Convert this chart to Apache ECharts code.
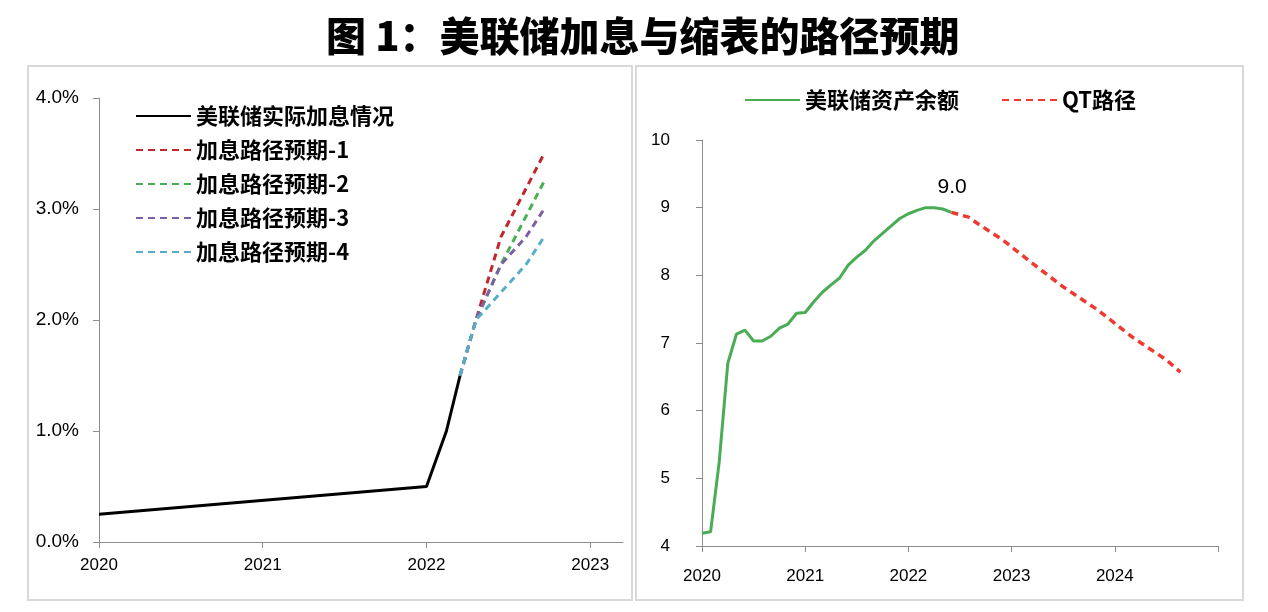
<!DOCTYPE html>
<html>
<head>
<meta charset="utf-8">
<script src="https://cdn.jsdelivr.net/npm/echarts@6/dist/echarts.min.js"></script>
<style>
html, body { margin: 0; padding: 0; background: #fff; }
#main { width: 1268px; height: 612px; }
</style>
</head>
<body>
<div id="main"></div>
<script>
// 左图：美联储实际加息 + 四条预期路径
var rateDates = ['2020-01-01', '2022-01-01', '2022-02-15', '2022-03-15'];
var rateActual = [0.25, 0.5, 1.0, 1.5];

var pathDates = ['2022-03-15', '2022-04-20', '2022-06-15', '2022-08-10', '2022-09-20'];
var path1 = [1.5, 2.0, 2.75, null, 3.5];
var path2 = [1.5, 2.0, 2.5, null, 3.25];
var path3 = [1.5, 2.0, 2.5, 2.75, 3.0];
var path4 = [1.5, 2.0, null, 2.5, 2.75];

// 右图：美联储资产余额（万亿美元）与QT路径
var balanceDates = ['2020-01', '2020-02', '2020-03', '2020-04', '2020-05', '2020-06',
	'2020-07', '2020-08', '2020-09', '2020-10', '2020-11', '2020-12',
	'2021-01', '2021-02', '2021-03', '2021-04', '2021-05', '2021-06',
	'2021-07', '2021-08', '2021-09', '2021-10', '2021-11', '2021-12',
	'2022-01', '2022-02', '2022-03', '2022-04', '2022-05', '2022-06'];
var balance = [4.19, 4.21, 5.24, 6.70, 7.13, 7.19, 7.03, 7.03, 7.10, 7.22, 7.28, 7.44,
	7.45, 7.61, 7.75, 7.86, 7.96, 8.15, 8.27, 8.37, 8.51, 8.62, 8.73, 8.84,
	8.91, 8.96, 9.00, 9.00, 8.98, 8.93];
var qtDates = ['2022-06', '2022-08', '2022-09', '2022-12', '2023-04', '2023-07', '2023-11', '2024-03', '2024-07', '2024-08-20'];
var qtPath = [8.93, 8.86, 8.77, 8.52, 8.12, 7.83, 7.49, 7.09, 6.75, 6.57];

var leftYears = [2020, 2023.2];
var leftTicks = [2020, 2021, 2022, 2023];
var rightYears = [2020, 2025];
var rightTicks = [2020, 2021, 2022, 2023, 2024, 2025];
var rightLabels = [2020, 2021, 2022, 2023, 2024];

function yr(s) {
	var p = s.split('-');
	var d = p[2] ? +p[2] : 1;
	return +p[0] + (+p[1] - 1) / 12 + (d - 1) / 365;
}
function pairs(dates, vals) {
	return dates.map(function (d, i) { return [yr(d), vals[i]]; });
}

var chart = echarts.init(document.getElementById('main'));

var cjk = '"Noto Sans CJK SC", sans-serif';
var num = '"Liberation Sans", Arial, sans-serif';
var axisGray = '#8c8c8c';

function xAxisOf(idx, range, ticks, labels, margin) {
	return {
		type: 'value', gridIndex: idx, min: range[0], max: range[1],
		axisLine: { show: true, lineStyle: { color: axisGray, width: 1 } },
		axisTick: { show: true, length: 6, customValues: ticks, lineStyle: { color: axisGray } },
		axisLabel: { color: '#000', fontSize: 17, fontFamily: num, margin: margin, customValues: labels,
			formatter: function (v) { return String(v); } },
		splitLine: { show: false }
	};
}

var dashW = 3;
var legendText = { fontSize: 22, fontWeight: 'bold', color: '#000', fontFamily: cjk };
var option = {
	backgroundColor: '#fff',
	animation: false,
	title: {
		text: '图 1：美联储加息与缩表的路径预期',
		left: 321, top: 11,
		textStyle: { fontSize: 40, fontWeight: 900, color: '#000', fontFamily: cjk }
	},
	graphic: [
		{ type: 'rect', shape: { x: 28, y: 66, width: 604, height: 534 },
			style: { fill: 'none', stroke: '#d9d9d9', lineWidth: 2 } },
		{ type: 'rect', shape: { x: 636, y: 66, width: 607, height: 534 },
			style: { fill: 'none', stroke: '#d9d9d9', lineWidth: 2 } }
	],
	legend: [
		{
			orient: 'vertical', left: 130, top: 100, itemWidth: 55, itemHeight: 14, itemGap: 12,
			itemStyle: { opacity: 0 },
			textStyle: legendText,
			data: ['美联储实际加息情况', '加息路径预期-1', '加息路径预期-2', '加息路径预期-3', '加息路径预期-4']
		},
		{
			orient: 'horizontal', left: 739, top: 84, itemWidth: 55, itemHeight: 14, itemGap: 42,
			itemStyle: { opacity: 0 },
			textStyle: legendText,
			data: ['美联储资产余额', 'QT路径']
		}
	],
	grid: [
		{ left: 99, right: 645, top: 98, bottom: 70 },
		{ left: 702, right: 50, top: 140, bottom: 66 }
	],
	xAxis: [
		xAxisOf(0, leftYears, leftTicks, leftTicks, 15),
		xAxisOf(1, rightYears, rightTicks, rightLabels, 22)
	],
	yAxis: [
		{
			type: 'value', gridIndex: 0, min: 0, max: 4, interval: 1,
			axisLine: { show: true, lineStyle: { color: axisGray } },
			axisTick: { show: true, length: 6, lineStyle: { color: axisGray } },
			axisLabel: { color: '#000', fontSize: 19, fontFamily: num, margin: 20,
				formatter: function (v) { return v.toFixed(1) + '%'; } },
			splitLine: { show: false }
		},
		{
			type: 'value', gridIndex: 1, min: 4, max: 10, interval: 1,
			axisLine: { show: true, lineStyle: { color: axisGray } },
			axisTick: { show: true, length: 6, lineStyle: { color: axisGray } },
			axisLabel: { color: '#000', fontSize: 17, fontFamily: num, margin: 32 },
			splitLine: { show: false }
		}
	],
	series: [
		{
			name: '美联储实际加息情况', type: 'line', xAxisIndex: 0, yAxisIndex: 0,
			symbol: 'none', data: pairs(rateDates, rateActual),
			lineStyle: { color: '#000', width: 3 }, itemStyle: { color: '#000' }
		},
		{
			name: '加息路径预期-1', type: 'line', xAxisIndex: 0, yAxisIndex: 0,
			symbol: 'none', connectNulls: true, data: pairs(pathDates, path1),
			lineStyle: { color: '#c0262b', width: dashW, type: [7, 5] }, itemStyle: { color: '#c0262b' }
		},
		{
			name: '加息路径预期-2', type: 'line', xAxisIndex: 0, yAxisIndex: 0,
			symbol: 'none', connectNulls: true, data: pairs(pathDates, path2),
			lineStyle: { color: '#47b053', width: dashW, type: [7, 5] }, itemStyle: { color: '#47b053' }
		},
		{
			name: '加息路径预期-3', type: 'line', xAxisIndex: 0, yAxisIndex: 0,
			symbol: 'none', connectNulls: true, data: pairs(pathDates, path3),
			lineStyle: { color: '#7d5fa6', width: dashW, type: [7, 5] }, itemStyle: { color: '#7d5fa6' }
		},
		{
			name: '加息路径预期-4', type: 'line', xAxisIndex: 0, yAxisIndex: 0,
			symbol: 'none', connectNulls: true, data: pairs(pathDates, path4),
			lineStyle: { color: '#57aecb', width: dashW, type: [7, 5] }, itemStyle: { color: '#57aecb' }
		},
		{
			name: '美联储资产余额', type: 'line', xAxisIndex: 1, yAxisIndex: 1,
			symbol: 'none', data: pairs(balanceDates, balance).map(function (p, i) {
				if (i === 27) {
					return { value: p, symbol: 'circle', symbolSize: 1, label: {
						show: true, position: 'top', offset: [18, -4], formatter: '9.0',
						fontSize: 21, color: '#000', fontFamily: num } };
				}
				return p;
			}),
			lineStyle: { color: '#4aad55', width: 3 }, itemStyle: { color: '#4aad55' }
		},
		{
			name: 'QT路径', type: 'line', xAxisIndex: 1, yAxisIndex: 1,
			symbol: 'none', data: pairs(qtDates, qtPath),
			lineStyle: { color: '#ee3a30', width: 3.5, type: [7, 5] }, itemStyle: { color: '#ee3a30' }
		}
	]
};

chart.setOption(option);
</script>
</body>
</html>
